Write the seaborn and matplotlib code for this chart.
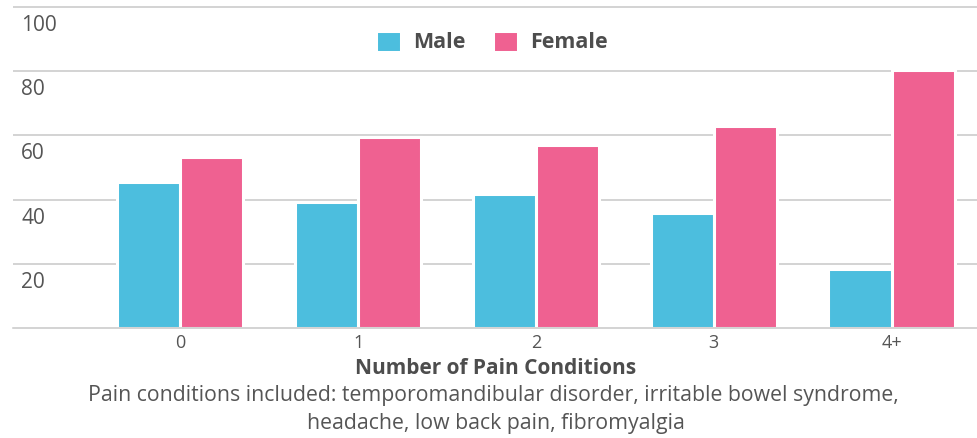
import numpy as np
import pandas as pd
import matplotlib
matplotlib.use('Agg')
import matplotlib.pyplot as plt
import matplotlib.transforms as mtransforms
import seaborn as sns

# andmed, loetud pildilt
conditions = ["0", "1", "2", "3", "4+"]
male = [45.4, 39.3, 41.8, 35.7, 18.4]
female = [53.4, 59.4, 56.9, 62.9, 80.4]
ytick_values = [100, 80, 60, 40, 20]

colors = {"Male": "#4CBEDE", "Female": "#EF6191"}
text_color = "#555555"
grid_color = "#c8c8c8"

df = pd.DataFrame({
    "Pain conditions": conditions * 2,
    "Value": male + female,
    "Sex": ["Male"] * len(conditions) + ["Female"] * len(conditions),
})

sns.set_style("white")
plt.rcParams['font.family'] = ['Open Sans', 'DejaVu Sans']

fig = plt.figure(figsize=(9.77, 4.38), dpi=100)
W, H = 977, 438
# telgede asukoht pikslites: vasak 13, parem 977, 0-joon y=328
ax = fig.add_axes([13 / W, 1 - 328 / H, (977 - 13) / W, (328 - 0.6) / H])

sns.barplot(
    data=df, x="Pain conditions", y="Value", hue="Sex",
    palette=colors, width=0.71, edgecolor="white", linewidth=2.2,
    saturation=1, ax=ax, legend=True,
)

ax.set_ylim(0, 102)
ax.set_xlim(-0.94, 4.48)
ax.set_axisbelow(True)
ax.set_yticks(ytick_values)
ax.yaxis.grid(True, color=grid_color, linewidth=1.1)
ax.tick_params(axis="y", length=0, labelleft=False)
ax.tick_params(axis="x", length=0, pad=4, labelsize=13, labelcolor=text_color)
for s in ["top", "right", "left"]:
    ax.spines[s].set_visible(False)
ax.spines["bottom"].set_color(grid_color)
ax.spines["bottom"].set_linewidth(1.1)
ax.spines["bottom"].set_zorder(3)

# y-telje sildid gridjoone all
trans = mtransforms.blended_transform_factory(ax.transAxes, ax.transData)
for v in ytick_values:
    ax.text(8 / 964, v - 2.5, str(v), transform=trans, ha="left", va="top",
            fontsize=15, color=text_color)

ax.set_xlabel("")
ax.set_ylabel("")
fig.text(496 / W, 1 - 368 / H, "Number of Pain Conditions", ha="center", va="center",
         fontsize=15, fontweight="bold", color="#4d4d4d")
fig.text(493 / W, 1 - 396 / H,
         "Pain conditions included: temporomandibular disorder, irritable bowel syndrome,",
         ha="center", va="center", fontsize=15.3, color=text_color)
fig.text(496 / W, 1 - 424 / H, "headache, low back pain, fibromyalgia",
         ha="center", va="center", fontsize=15.3, color=text_color)

handles, labels = ax.get_legend_handles_labels()
ax.legend(handles, labels, loc="center", bbox_to_anchor=(492 / W, 1 - 42 / H),
          bbox_transform=fig.transFigure, ncol=2, frameon=False,
          handlelength=1.15, handleheight=1.15, handletextpad=0.55, columnspacing=1.3,
          prop={"size": 15.5, "weight": "bold"}, labelcolor="#4d4d4d")

fig.savefig("out.png", dpi=100)
